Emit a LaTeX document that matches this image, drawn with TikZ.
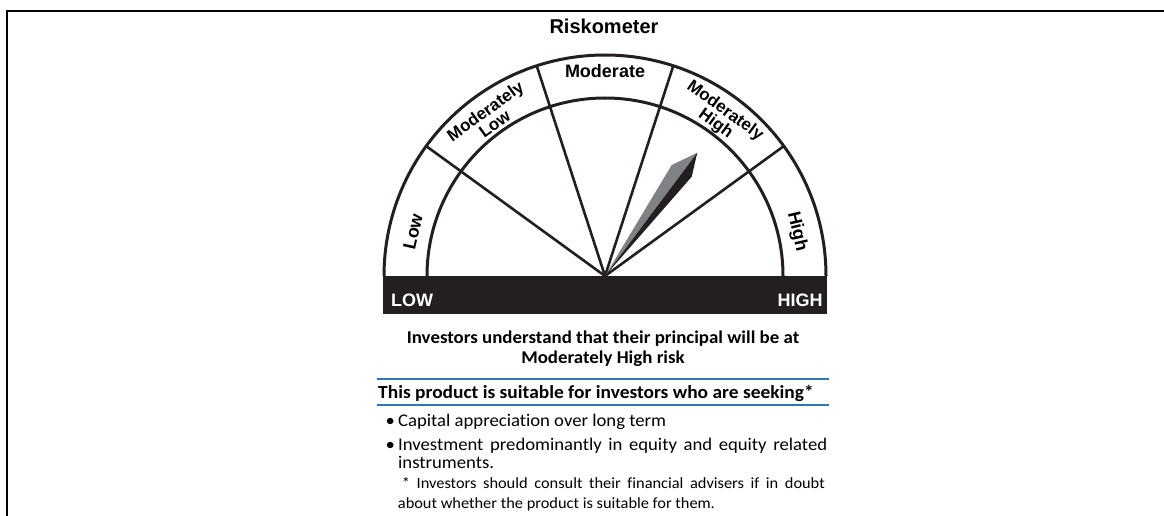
\documentclass[tikz,border=0pt]{standalone}
\usepackage{fontspec}
\setmainfont{Carlito}[Ligatures=CommonOff, FakeStretch=1.05]
\newfontfamily\helv{Liberation Sans}
\usetikzlibrary{calc}
\definecolor{ink}{RGB}{35,31,32}
\definecolor{needlegray}{RGB}{128,130,133}
\definecolor{ruleblue}{RGB}{45,120,180}

\begin{document}
\begin{tikzpicture}[x=1pt,y=1pt,
 dial/.style={draw=ink, line width=3pt},
 spoke/.style={draw=ink, line width=2.6pt},
 band/.style={font=\helv\bfseries\fontsize{18}{16.5}\selectfont, align=center, inner sep=0pt},
 band2/.style={band, font=\helv\bfseries\fontsize{17}{16}\selectfont},
 tag/.style={font=\helv\bfseries\fontsize{18}{18}\selectfont, text=white, inner sep=0pt},
 body/.style={inner sep=0pt, anchor=base west, font=\fontsize{17.8}{20}\selectfont},
 head/.style={inner sep=0pt, font=\bfseries\fontsize{18}{20}\selectfont},
 rule/.style={draw=ruleblue, line width=1.8pt}]
\useasboundingbox (0,0) rectangle (1164,-516);
% frame
\draw[line width=2.4pt] (7,-516) -- (7,-11) -- (1164,-11);
\node[font=\helv\bfseries\fontsize{20}{20}\selectfont, anchor=base, inner sep=0pt] (title) at (604,-34) {Riskometer};

% dial
\coordinate (hub) at (605,-276);
\foreach \a in {36,72,108,144}
  \draw[spoke] (hub) -- ++(\a:221);
\draw[dial] (hub) ++(221,0) arc[start angle=0, end angle=180, radius=221];
\draw[dial] (hub) ++(178,0) arc[start angle=0, end angle=180, radius=178];

% needle
\coordinate (tip) at (697.3,-152.7);
\fill[needlegray] (hub) -- (671.7,-165) -- (tip) -- cycle;
\fill[ink] (hub) -- (tip) -- (691.7,-176.7) -- cycle;

% bar
\fill[ink] (382.5,-276) rectangle (827,-313.5);
\node[tag, anchor=base west] (lowtag) at (391,-306.7) {LOW};
\node[tag, anchor=base east] (hightag) at (822.7,-306.7) {HIGH};

% band labels
\node[band, rotate=77] (low) at ($(hub)+(167:197)$) {Low};
\node[band2, rotate=36] (modlow) at ($(hub)+(126:196)$) {Moderately\\Low};
\node[band] (moderate) at ($(hub)+(90:205)$) {Moderate};
\node[band2, rotate=-36] (modhigh) at ($(hub)+(54:196)$) {Moderately\\High};
\node[band, rotate=-77] (high) at ($(hub)+(13:197)$) {High};

% text below
\node[head, anchor=base] (risk1) at (603,-343.3) {Investors understand that their principal will be at};
\node[head, anchor=base] (risk2) at (603,-363) {Moderately High risk};
\draw[rule] (377,-379.3) -- (829,-379.3);
\node[head, anchor=base west, font=\bfseries\fontsize{18.5}{20}\selectfont] (seek) at (378,-398.3) {This product is suitable for investors who are seeking*};
\draw[rule] (377,-405) -- (829,-405);
\node[body] (dot1) at (385.5,-426.7) {•};
\node[body] (aim1) at (398,-426.7) {Capital appreciation over long term};
\node[body] (dot2) at (385.5,-450) {•};
\node[body] (aim2) at (398,-450) {\makebox[429pt][s]{Investment predominantly in equity and equity related}};
\node[body] (aim2b) at (398,-468.3) {instruments.};
\node[body, font=\fontsize{15.6}{18}\selectfont] (note1) at (401.7,-488.3) {\makebox[423pt][s]{* Investors should consult their financial advisers if in doubt}};
\node[body, font=\fontsize{15.6}{18}\selectfont] (note2) at (397.7,-508.3) {about whether the product is suitable for them.};
\end{tikzpicture}
\end{document}
